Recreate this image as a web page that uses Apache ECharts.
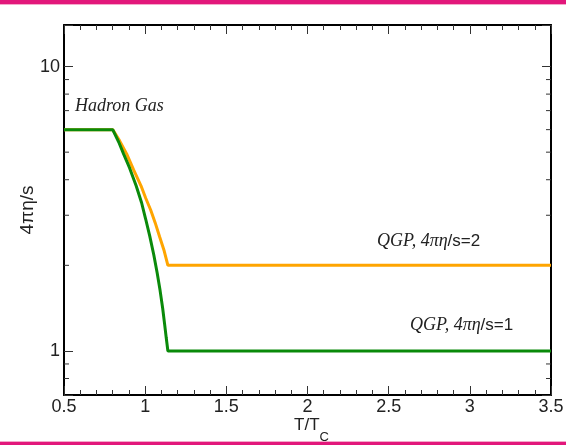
<!DOCTYPE html>
<html><head><meta charset="utf-8">
<script src="https://cdn.jsdelivr.net/npm/echarts@6/dist/echarts.min.js"></script>
<style>html,body{margin:0;padding:0;background:#fff}#c{width:566px;height:445px}</style>
</head><body><div id="c"></div>
<script>
// Data
const xMin = 0.5, xMax = 3.5;
const yMin = 0.7, yMax = 14;
const orangeT = [0.5, 0.8, 0.843, 0.886, 0.929, 0.975, 1.003, 1.034, 1.062, 1.089, 1.117, 1.14, 3.5];
const orangeV = [6.0, 6.0, 5.48, 4.93, 4.33, 3.80, 3.45, 3.13, 2.82, 2.52, 2.25, 2.0, 2.0];
const greenT = [0.5, 0.8, 0.837, 0.867, 0.904, 0.945, 0.978, 1.003, 1.028, 1.053, 1.074, 1.092, 1.108, 1.120, 1.130, 1.14, 3.5];
const greenV = [6.0, 6.0, 5.43, 4.93, 4.40, 3.80, 3.32, 2.91, 2.54, 2.18, 1.88, 1.63, 1.41, 1.24, 1.11, 1.0, 1.0];
const yMajorLabels = [1, 10];
const yMinorTicks = [0.8, 0.9, 2, 3, 4, 5, 6, 7, 8, 9];

const chart = echarts.init(document.getElementById('c'), null, {renderer: 'canvas'});
const sans = 'Liberation Sans, Arial, sans-serif';
const serif = 'Liberation Serif, Times New Roman, serif';

const xAxisBase = {
  type: 'value', min: xMin, max: xMax, interval: 0.5,
  axisLine: {show: true, onZero: false, lineStyle: {color: '#000', width: 2}},
  axisTick: {show: true, inside: true, length: 9, lineStyle: {color: '#333', width: 1}},
  minorTick: {show: true, splitNumber: 5, length: 5, lineStyle: {color: '#333', width: 1}},
  splitLine: {show: false}
};
const yAxisBase = {
  type: 'log', logBase: 10, min: yMin, max: yMax,
  axisLine: {show: true, onZero: false, lineStyle: {color: '#000', width: 2}},
  axisTick: {show: true, inside: true, length: 9, lineStyle: {color: '#333', width: 1}},
  splitLine: {show: false}
};

chart.setOption({
  animation: false,
  backgroundColor: '#fff',
  grid: {left: 64, right: 15, top: 25, bottom: 50, containLabel: false, outerBoundsMode: 'none'},
  xAxis: [
    Object.assign({}, xAxisBase, {
      position: 'bottom',
      axisLabel: {show: true, margin: 3, fontSize: 18, color: '#222', fontFamily: sans,
        formatter: v => String(Math.round(v * 10) / 10)},
      name: '{a|T/T}{b|C}', nameLocation: 'middle', nameGap: 12, nameMoveOverlap: false,
      nameTextStyle: {rich: {
        a: {fontSize: 17, color: '#222', fontFamily: sans, padding: [0, 0, 0, 8]},
        b: {fontSize: 13, color: '#222', fontFamily: sans, padding: [24, 0, 0, 0]}
      }}
    }),
    Object.assign({}, xAxisBase, {position: 'top', axisLabel: {show: false}})
  ],
  yAxis: [
    Object.assign({}, yAxisBase, {
      position: 'left',
      axisLabel: {show: true, margin: 4, fontSize: 18, color: '#222', fontFamily: sans,
        formatter: v => yMajorLabels.some(m => Math.abs(m - v) < 1e-6) ? String(v) : ''},
      name: '4πη/s', nameLocation: 'middle', nameGap: 27, nameRotate: 90, nameMoveOverlap: false,
      nameTextStyle: {fontSize: 19, color: '#222', fontFamily: sans}
    }),
    Object.assign({}, yAxisBase, {position: 'right', axisLabel: {show: false}})
  ],
  series: [
    {
      type: 'custom', xAxisIndex: 0, yAxisIndex: 0, silent: true, clip: false, z: 1,
      data: yMinorTicks.map(v => [xMin, v]),
      renderItem: function (params, api) {
        const v = api.value(1);
        const pL = api.coord([xMin, v]);
        const pR = api.coord([xMax, v]);
        return {type: 'group', children: [
          {type: 'line', shape: {x1: pL[0], y1: pL[1], x2: pL[0] + 5, y2: pL[1]}, style: {stroke: '#333', lineWidth: 1}},
          {type: 'line', shape: {x1: pR[0] - 5, y1: pR[1], x2: pR[0], y2: pR[1]}, style: {stroke: '#333', lineWidth: 1}}
        ]};
      }
    },
    {
      type: 'line', name: 'eta/s=2', showSymbol: false, z: 3,
      data: orangeT.map((t, i) => [t, orangeV[i]]),
      lineStyle: {color: '#FFA500', width: 3}, itemStyle: {color: '#FFA500'}
    },
    {
      type: 'line', name: 'eta/s=1', showSymbol: false, z: 4,
      data: greenT.map((t, i) => [t, greenV[i]]),
      lineStyle: {color: '#0A8A0A', width: 3}, itemStyle: {color: '#0A8A0A'}
    }
  ],
  graphic: [
    {type: 'rect', left: 0, top: 0, shape: {width: 566, height: 4}, style: {fill: '#E2177B'}, z: 10},
    {type: 'rect', left: 0, top: 4, shape: {width: 566, height: 1}, style: {fill: '#F4A9CB'}, z: 10},
    {type: 'rect', left: 0, top: 441, shape: {width: 566, height: 1}, style: {fill: '#F4A9CB'}, z: 10},
    {type: 'rect', left: 0, top: 442, shape: {width: 566, height: 3}, style: {fill: '#E2177B'}, z: 10},
    {type: 'text', left: 75, top: 97, z: 10,
      style: {text: 'Hadron Gas', font: 'italic 18px ' + serif, fill: '#222'}},
    {type: 'text', left: 377, top: 232, z: 10,
      style: {text: '{i|QGP, 4πη}{n|/s=2}', fill: '#222',
        rich: {i: {fontFamily: serif, fontStyle: 'italic', fontSize: 18, fill: '#222'},
               n: {fontFamily: sans, fontSize: 17, fill: '#222'}}}},
    {type: 'text', left: 410, top: 316, z: 10,
      style: {text: '{i|QGP, 4πη}{n|/s=1}', fill: '#222',
        rich: {i: {fontFamily: serif, fontStyle: 'italic', fontSize: 18, fill: '#222'},
               n: {fontFamily: sans, fontSize: 17, fill: '#222'}}}}
  ]
});
</script>
</body></html>
